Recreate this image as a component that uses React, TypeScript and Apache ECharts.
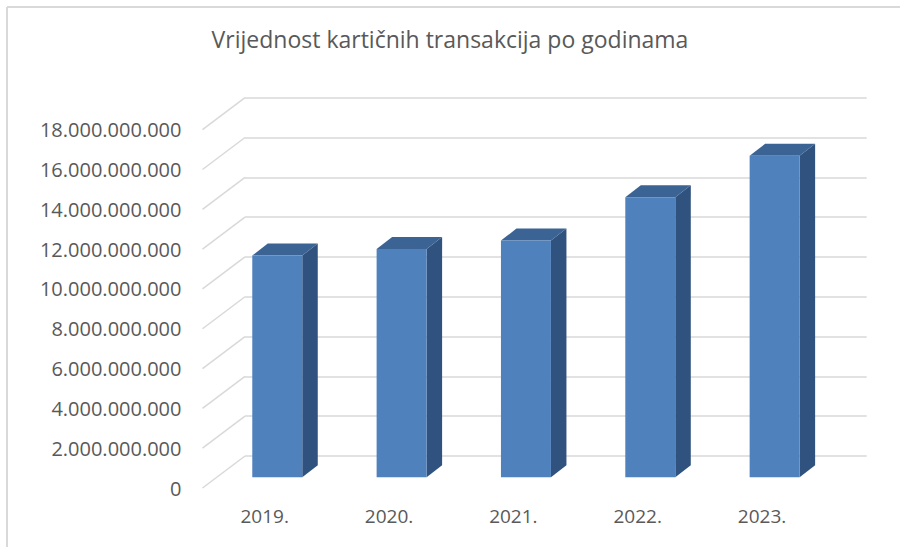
import React, { useEffect, useRef } from 'react';
import * as echarts from 'echarts';

const chartTitle = 'Vrijednost kartičnih transakcija po godinama';
const categories = ['2019.', '2020.', '2021.', '2022.', '2023.'];
const values = [11.14e9, 11.47e9, 11.89e9, 14.07e9, 16.15e9];
const yTicks = [0, 2e9, 4e9, 6e9, 8e9, 10e9, 12e9, 14e9, 16e9, 18e9];

const FONT = '"Open Sans", "Noto Sans", sans-serif';
const TEXT = '#595959';
const GRID = '#d9d9d9';
const DEPTH_X = 42.5;
const DEPTH_Y = 32;

const fmt = (v: number) => Math.round(v).toString().replace(/\B(?=(\d{3})+(?!\d))/g, '.');

export default function App() {
  const ref = useRef<HTMLDivElement>(null);
  useEffect(() => {
    if (!ref.current) return;
    const chart = echarts.init(ref.current, undefined, { renderer: 'svg' });
    const yMax = yTicks[yTicks.length - 1];
    const step = yTicks[1] - yTicks[0];
    chart.setOption({
      animation: false,
      backgroundColor: '#ffffff',
      title: {
        text: chartTitle,
        left: 'center',
        top: 22,
        textStyle: { fontFamily: FONT, fontSize: 23, fontWeight: 'normal', color: TEXT },
      },
      graphic: [
        { type: 'line', shape: { x1: 7, y1: 7, x2: 900, y2: 7 }, style: { stroke: GRID, lineWidth: 2 } },
        { type: 'line', shape: { x1: 7, y1: 7, x2: 7, y2: 547 }, style: { stroke: GRID, lineWidth: 2 } },
      ],
      grid: [
        { left: 245, top: 97.7, width: 621.7, height: 358.3 },
        { left: 245 - DEPTH_X, top: 97.7 + DEPTH_Y, width: 621.7, height: 358.3 },
      ],
      xAxis: [
        { type: 'category', gridIndex: 0, data: categories, show: false },
        {
          type: 'category', gridIndex: 1, data: categories,
          axisLine: { show: false }, axisTick: { show: false },
          axisLabel: { margin: 18, fontFamily: FONT, fontSize: 19, color: TEXT },
        },
      ],
      yAxis: [
        {
          type: 'value', gridIndex: 0, min: 0, max: yMax, interval: step,
          axisLine: { show: false }, axisTick: { show: false }, axisLabel: { show: false },
          splitLine: { show: true, lineStyle: { color: GRID, width: 1.5 } },
        },
        {
          type: 'value', gridIndex: 1, min: 0, max: yMax, interval: step,
          axisLine: { show: false }, axisTick: { show: false },
          splitLine: { show: false },
          axisLabel: {
            margin: 21, fontFamily: FONT, fontSize: 20, color: TEXT,
            padding: [4, 0, 0, 0],
            formatter: (v: number) => fmt(v),
          },
        },
      ],
      series: [
        {
          type: 'custom', xAxisIndex: 1, yAxisIndex: 1,
          data: yTicks.map((v) => [0, v]),
          silent: true,
          renderItem: (_p: any, api: any) => {
            const pt = api.coord([0, api.value(1)]);
            const band = api.size([1, 0])[0];
            const x0 = pt[0] - band / 2;
            return {
              type: 'line',
              shape: { x1: x0, y1: pt[1], x2: x0 + DEPTH_X, y2: pt[1] - DEPTH_Y },
              style: { stroke: GRID, lineWidth: 1.5 },
            };
          },
        },
        {
          type: 'custom', xAxisIndex: 1, yAxisIndex: 1,
          data: values.map((v, i) => [i, v]),
          renderItem: (_p: any, api: any) => {
            const i = api.value(0);
            const v = api.value(1);
            const base = api.coord([i, 0]);
            const top = api.coord([i, v]);
            const band = api.size([1, 0])[0];
            const w = band * 0.402;
            const cx = base[0] + 12.6;
            const yb = base[1] - 10.7;
            const yt = top[1] - 10.7;
            const l = cx - w / 2;
            const r = cx + w / 2;
            const dx = 15.5;
            const dy = 12;
            return {
              type: 'group',
              children: [
                { type: 'polygon', shape: { points: [[r, yt], [r + dx, yt - dy], [r + dx, yb - dy], [r, yb]] }, style: { fill: '#30527f' } },
                { type: 'polygon', shape: { points: [[l, yt], [l + dx, yt - dy], [r + dx, yt - dy], [r, yt]] }, style: { fill: '#3b6393' } },
                { type: 'rect', shape: { x: l, y: yt, width: w, height: yb - yt }, style: { fill: '#4f81bd' } },
              ],
            };
          },
        },
      ],
    });
    return () => chart.dispose();
  }, []);
  return (
    <div
      ref={ref}
      style={{ position: 'fixed', left: 0, top: 0, width: 900, height: 547, background: '#fff' }}
    />
  );
}
